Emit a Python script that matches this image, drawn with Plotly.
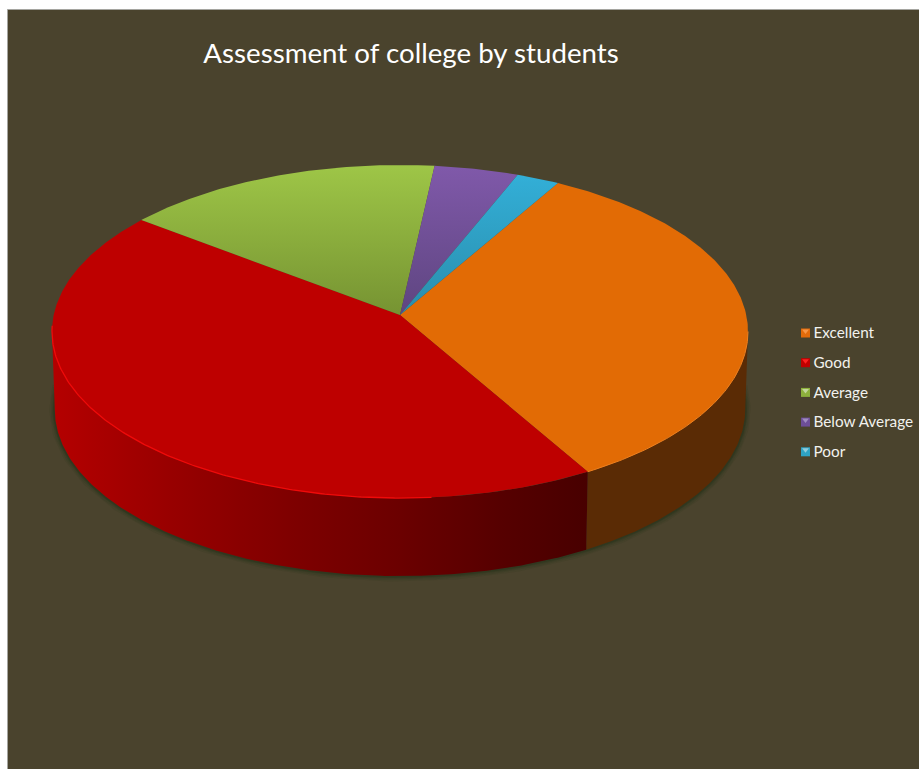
import numpy as np
import plotly.graph_objects as go

# Survey results, in percent
categories = ["Excellent", "Good", "Average", "Below Average", "Poor"]
values = [33.5, 43.7, 16.3, 4.3, 2.2]

# Vertical gradient on each top face: (colour at the far rim, colour at the apex)
top_colors = [
    ("#E26B05", "#E26B05"),
    ("#BE0000", "#BE0000"),
    ("#9EC647", "#769332"),
    ("#8059AA", "#5E4580"),
    ("#33B1DA", "#2A8DAC"),
]
swatch_colors = ["#E26B0A", "#C00000", "#8DB03C", "#6D4E97", "#2EA3C5"]
swatch_tips = ["#F79646", "#FF2020", "#C3D69B", "#A08CC0", "#92CDDC"]

TITLE = "Assessment of college by students"
PANEL = "#4A432D"
START_ANGLE = 29.7      # clockwise from 12 o'clock, where the first slice begins

# Tilted-disc projection, in pixel units of the hidden axes
APEX_X, APEX_Y = 400.0, 315.0
TILT = 0.0991           # perspective strength
SCALE_X, SCALE_Y = 346.3, 164.9
DEPTH = 78.0            # wall height
BASE_SHRINK = 0.992     # the lower rim sits slightly further away


def rim(deg, lower=False):
    """Project clockwise angles on the disc edge to pixel coordinates."""
    a = np.radians(np.asarray(deg, dtype=float))
    u, v = np.sin(a), -np.cos(a)
    w = 1 - TILT * v
    x, y = SCALE_X * u / w, SCALE_Y * v / w
    if lower:
        return APEX_X + x * BASE_SHRINK, APEX_Y + y + DEPTH
    return APEX_X + x, APEX_Y + y


def arc(a0, a1):
    return np.linspace(a0, a1, max(int(abs(a1 - a0) * 2), 2) + 1)


shares = np.array(values, dtype=float) / sum(values) * 360
edges = START_ANGLE + np.concatenate([[0], np.cumsum(shares)])

fig = go.Figure()

# The wall is only visible between the two silhouette angles
sil = np.degrees(np.arccos(-TILT))
wall_right, wall_left = sil, 360 - sil

# Soft contact shadow hugging the lower rim
sx, sy = rim(arc(wall_right - 8, wall_left + 8), lower=True)
for width, alpha in [(11, 0.10), (8, 0.14), (5, 0.20), (3, 0.28)]:
    fig.add_trace(go.Scatter(
        x=sx, y=sy, mode="lines", hoverinfo="skip", showlegend=False,
        line=dict(color=f"rgba(28,48,20,{alpha})", width=width),
    ))


def add_wall(a0, a1, **style):
    ang = arc(a0, a1)
    tx, ty = rim(ang)
    bx, by = rim(ang, lower=True)
    fig.add_trace(go.Scatter(
        x=np.concatenate([tx, bx[::-1]]), y=np.concatenate([ty, by[::-1]]),
        mode="lines", fill="toself", hoverinfo="skip", showlegend=False,
        line=dict(width=0), **style,
    ))


# Walls: only the first two slices reach the front of the disc
add_wall(wall_right, edges[1], fillcolor="#5A2B05")
add_wall(edges[1], wall_left, fillgradient=dict(
    type="horizontal", start=587, stop=54,
    colorscale=[[0, "#480000"], [0.16, "#560000"], [0.35, "#6B0000"],
                [0.55, "#7E0000"], [0.78, "#980000"], [1, "#B40000"]],
))

# Top faces
for name, a0, a1, (far, near) in zip(categories, edges[:-1], edges[1:], top_colors):
    ax, ay = rim(arc(a0, a1))
    fig.add_trace(go.Scatter(
        x=np.concatenate([[APEX_X], ax, [APEX_X]]),
        y=np.concatenate([[APEX_Y], ay, [APEX_Y]]),
        mode="lines", fill="toself", name=name, hoverinfo="name", showlegend=False,
        line=dict(width=0),
        fillgradient=dict(type="vertical", start=165, stop=APEX_Y,
                          colorscale=[[0, far], [1, near]]),
    ))

# Bevel highlight along the front rim
hx, hy = rim(arc(edges[1] + 25, wall_left + 2))
fig.add_trace(go.Scatter(x=hx, y=hy, mode="lines", hoverinfo="skip", showlegend=False,
                         line=dict(color="#F00A0A", width=1.3)))
hx, hy = rim(arc(wall_right, edges[1]))
fig.add_trace(go.Scatter(x=hx, y=hy, mode="lines", hoverinfo="skip", showlegend=False,
                         line=dict(color="#EE7F1E", width=1)))

# Key at the right of the disc
key_y = [333 + 29.7 * i for i in range(len(categories))]
fig.add_trace(go.Scatter(
    x=[805.5] * len(categories), y=key_y, mode="markers",
    marker=dict(symbol="square", size=9, color=swatch_colors, line=dict(width=0)),
    hoverinfo="skip", showlegend=False,
))
fig.add_trace(go.Scatter(
    x=[805.5] * len(categories), y=[v - 2 for v in key_y], mode="markers",
    marker=dict(symbol="triangle-down", size=6, color=swatch_tips, line=dict(width=0)),
    hoverinfo="skip", showlegend=False,
))
fig.add_trace(go.Scatter(
    x=[813.5] * len(categories), y=[v + 1.5 for v in key_y], mode="text",
    text=categories, textposition="middle right",
    textfont=dict(family="Lato", size=15.3, color="#F2F2EE"),
    hoverinfo="text", showlegend=False,
))

fig.update_layout(
    width=919, height=769, autosize=False,
    margin=dict(l=0, r=0, t=0, b=0),
    paper_bgcolor="white", plot_bgcolor="white",
    showlegend=False,
    title=dict(text=TITLE, x=411 / 919, xanchor="center", xref="paper",
               y=1 - 53 / 769, yanchor="middle", yref="paper",
               font=dict(family="Lato", size=27.7, color="white")),
    xaxis=dict(range=[0, 919], visible=False, fixedrange=True),
    yaxis=dict(range=[769, 0], visible=False, fixedrange=True),
    shapes=[dict(type="rect", layer="below", x0=7.5, y0=9.5, x1=925, y1=775,
                 fillcolor=PANEL, line=dict(color="#A5A5A0", width=1))],
)

fig.write_html("out.html", config=dict(displayModeBar=False))
